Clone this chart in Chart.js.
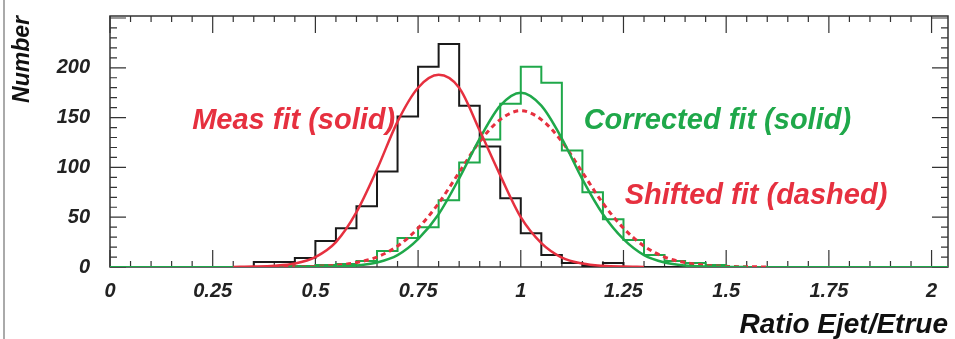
<!DOCTYPE html>
<html>
<head>
<meta charset="utf-8">
<script src="https://cdn.jsdelivr.net/npm/chart.js@4.4.0/dist/chart.umd.min.js"></script>
<style>
  html, body { margin: 0; padding: 0; background: #fff; }
  #wrap { position: relative; width: 955px; height: 339px; }
</style>
</head>
<body>
<div id="wrap"><canvas id="ratioChart"></canvas></div>
<script>
// Histogram bins (left edges, width 0.05)
const binLow = [0.30, 0.35, 0.40, 0.45, 0.50, 0.55, 0.60, 0.65, 0.70, 0.75, 0.80, 0.85, 0.90,
                0.95, 1.00, 1.05, 1.10, 1.15, 1.20, 1.25, 1.30, 1.35, 1.40, 1.45, 1.50];
const measCounts = [0, 5, 5, 9, 26, 39, 61, 96, 151, 201, 224, 162, 121,
                    69, 34, 12, 4, 1, 4, 0, 0, 0, 0, 0, 0];
const corrCounts = [0, 0, 1, 1, 2, 3, 6, 16, 29, 40, 67, 105, 128,
                    164, 201, 185, 117, 75, 48, 27, 12, 6, 4, 2, 0];

// Fit curves
const measFitX = [0.30, 0.35, 0.40, 0.45, 0.50, 0.55, 0.60, 0.65, 0.70, 0.75, 0.80, 0.85, 0.90,
                  0.95, 1.00, 1.05, 1.10, 1.15, 1.20, 1.25, 1.30];
const measFitY = [0.1, 0.4, 1.2, 3.5, 10, 25, 55, 98, 146, 180, 193, 180, 137,
                  92, 50, 24, 9.5, 3.5, 1.2, 0.4, 0.1];
const corrFitX = [0.45, 0.50, 0.55, 0.60, 0.65, 0.70, 0.75, 0.80, 0.85, 0.90, 0.95, 1.00,
                  1.05, 1.10, 1.15, 1.20, 1.25, 1.30, 1.35, 1.40, 1.45, 1.50, 1.55];
const corrFitY = [0, 0.1, 0.4, 1.5, 4.6, 12, 28, 53, 89, 129, 162, 175,
                  162, 129, 88, 53, 28, 12, 4.6, 1.5, 0.4, 0.1, 0];
const shiftFitX = [0.40, 0.45, 0.50, 0.55, 0.60, 0.65, 0.70, 0.75, 0.80, 0.85, 0.90, 0.95, 1.00,
                   1.05, 1.10, 1.15, 1.20, 1.25, 1.30, 1.35, 1.40, 1.45, 1.50, 1.55, 1.60];
const shiftFitY = [0.1, 0.2, 0.6, 1.7, 4.5, 10, 21, 39, 64, 95, 126, 148, 157,
                   148, 126, 95, 64, 39, 21, 10, 4.5, 1.7, 0.6, 0.2, 0.1];

const xTickValues = [0, 0.25, 0.5, 0.75, 1, 1.25, 1.5, 1.75, 2];
const yTickValues = [0, 50, 100, 150, 200];

const redColor = '#e6303f';
const greenColor = '#1fa84a';
const textFont = '"Liberation Sans", Arial, sans-serif';

const notes = [
    { text: 'Meas fit (solid)', x: 0.2, y: 139, color: redColor },
    { text: 'Corrected fit (solid)', x: 1.153, y: 139, color: greenColor },
    { text: 'Shifted fit (dashed)', x: 1.253, y: 63, color: redColor }
];

function histPoints(counts) {
    // each point holds the bin's left edge; with stepped 'before' the level runs to the next edge
    const pts = [{ x: 0, y: 0 }];
    binLow.forEach((b, i) => pts.push({ x: b, y: counts[i] }));
    pts.push({ x: 1.55, y: 0 }, { x: 2.04, y: 0 });
    return pts;
}

function curvePoints(xs, ys) {
    return xs.map((x, i) => ({ x: x, y: ys[i] }));
}

const framePlugin = {
    id: 'frame',
    beforeDraw(chart) {
        const { ctx, height } = chart;
        ctx.save();
        ctx.fillStyle = '#fff';
        ctx.fillRect(0, 0, chart.width, height);
        ctx.strokeStyle = '#aaa';
        ctx.lineWidth = 2;
        ctx.beginPath();
        ctx.moveTo(4, 0);
        ctx.lineTo(4, height);
        ctx.stroke();
        ctx.restore();
    },
    beforeDatasetsDraw(chart) {
        const { ctx, chartArea: a, scales: { x, y } } = chart;
        ctx.save();
        ctx.strokeStyle = '#333';
        ctx.lineWidth = 1.5;
        ctx.strokeRect(a.left, a.top, a.right - a.left, a.bottom - a.top);
        ctx.lineWidth = 1.2;
        ctx.beginPath();
        for (let i = 0; i <= 40; i++) {
            const px = x.getPixelForValue(i * 0.05);
            const len = i % 5 === 0 ? 17 : 6;
            ctx.moveTo(px, a.bottom); ctx.lineTo(px, a.bottom - len);
            ctx.moveTo(px, a.top); ctx.lineTo(px, a.top + len);
        }
        for (let v = 0; v <= 250; v += 10) {
            const py = y.getPixelForValue(v);
            const len = v % 50 === 0 ? 16 : 7;
            ctx.moveTo(a.left, py); ctx.lineTo(a.left + len, py);
            ctx.moveTo(a.right, py); ctx.lineTo(a.right - len, py);
        }
        ctx.stroke();
        ctx.restore();
    },
    afterDatasetsDraw(chart) {
        const { ctx, scales: { x, y } } = chart;
        ctx.save();
        ctx.font = 'italic bold 29px ' + textFont;
        ctx.textBaseline = 'alphabetic';
        ctx.textAlign = 'left';
        notes.forEach(n => {
            ctx.fillStyle = n.color;
            ctx.fillText(n.text, x.getPixelForValue(n.x), y.getPixelForValue(n.y));
        });
        ctx.restore();
    }
};

const ctx = document.getElementById('ratioChart');
new Chart(ctx.getContext('2d'), {
    type: 'line',
    data: {
        datasets: [
            {
                label: 'Meas fit',
                data: curvePoints(measFitX, measFitY),
                borderColor: redColor,
                borderWidth: 2.5,
                pointRadius: 0,
                cubicInterpolationMode: 'monotone',
                order: 0
            },
            {
                label: 'Corrected fit',
                data: curvePoints(corrFitX, corrFitY),
                borderColor: greenColor,
                borderWidth: 2.5,
                pointRadius: 0,
                cubicInterpolationMode: 'monotone',
                order: 1
            },
            {
                label: 'Shifted fit',
                data: curvePoints(shiftFitX, shiftFitY),
                borderColor: redColor,
                borderWidth: 3,
                borderDash: [5, 4],
                pointRadius: 0,
                cubicInterpolationMode: 'monotone',
                order: 2
            },
            {
                label: 'Corrected',
                data: histPoints(corrCounts),
                borderColor: greenColor,
                borderWidth: 2,
                pointRadius: 0,
                stepped: 'before',
                order: 3
            },
            {
                label: 'Measured',
                data: histPoints(measCounts),
                borderColor: '#1a1a1a',
                borderWidth: 2,
                pointRadius: 0,
                stepped: 'before',
                order: 4
            }
        ]
    },
    options: {
        responsive: true,
        maintainAspectRatio: false,
        animation: false,
        devicePixelRatio: 1,
        layout: { padding: { left: 0, right: 7, top: 16, bottom: 0 } },
        plugins: { legend: { display: false }, tooltip: { enabled: false } },
        scales: {
            x: {
                type: 'linear',
                min: 0,
                max: 2.04,
                border: { display: false },
                grid: { display: false, drawTicks: false },
                afterBuildTicks: s => { s.ticks = xTickValues.map(v => ({ value: v })); },
                ticks: {
                    autoSkip: false,
                    maxRotation: 0,
                    padding: 12,
                    color: '#222',
                    font: { family: textFont, size: 20, weight: 'bold', style: 'italic' },
                    callback: v => String(v)
                },
                title: {
                    display: true,
                    text: 'Ratio Ejet/Etrue',
                    align: 'end',
                    color: '#111',
                    padding: 0,
                    font: { family: textFont, size: 28, weight: 'bold', style: 'italic', lineHeight: 1 }
                },
                afterFit: s => { s.height = 72; s.paddingLeft = 0; s.paddingRight = 0; }
            },
            y: {
                min: 0,
                max: 252,
                border: { display: false },
                grid: { display: false, drawTicks: false },
                afterBuildTicks: s => { s.ticks = yTickValues.map(v => ({ value: v })); },
                ticks: {
                    padding: 20,
                    color: '#222',
                    font: { family: textFont, size: 20, weight: 'bold', style: 'italic' },
                    callback: v => String(v)
                },
                title: {
                    display: true,
                    text: 'Number',
                    align: 'end',
                    color: '#111',
                    padding: { top: 9, bottom: 0 },
                    font: { family: textFont, size: 23, weight: 'bold', style: 'italic' }
                },
                afterFit: s => { s.width = 110; s.paddingTop = 0; s.paddingBottom = 0; }
            }
        }
    },
    plugins: [framePlugin]
});
</script>
</body>
</html>
